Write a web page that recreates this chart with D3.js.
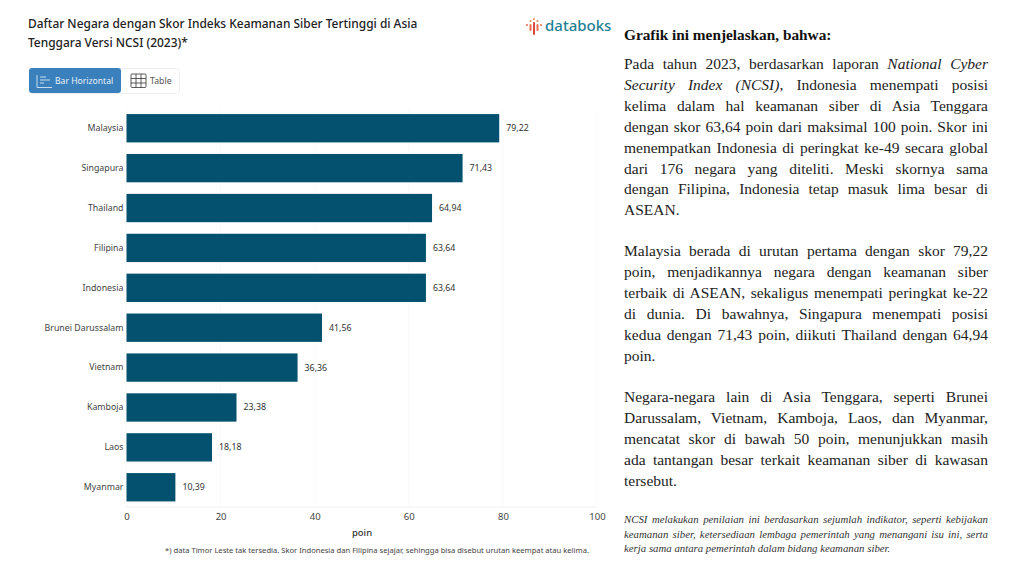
<!DOCTYPE html>
<html><head><meta charset="utf-8">
<script src="https://cdn.jsdelivr.net/npm/d3@7/dist/d3.min.js"></script>
<style>
html,body{margin:0;padding:0;background:#fff;width:1024px;height:576px;overflow:hidden}
#c{position:absolute;left:0;top:0}
.l{position:absolute;left:624px;width:364px;font-family:"Liberation Serif",serif;white-space:nowrap;color:#1c1c1c}
.j{text-align:justify;text-align-last:justify;white-space:normal}
</style></head><body>
<svg id="c" width="1024" height="576"></svg>
<div id="t"></div>
<script>
const categories=["Malaysia","Singapura","Thailand","Filipina","Indonesia","Brunei Darussalam","Vietnam","Kamboja","Laos","Myanmar"];
const values=[79.22,71.43,64.94,63.64,63.64,41.56,36.36,23.38,18.18,10.39];
const xTicks=[0,20,40,60,80,100];
const titleLines=["Daftar Negara dengan Skor Indeks Keamanan Siber Tertinggi di Asia","Tenggara Versi NCSI (2023)*"];
const footnote="*) data Timor Leste tak tersedia. Skor Indonesia dan Filipina sejajar, sehingga bisa disebut urutan keempat atau kelima.";
const para1=["Pada tahun 2023, berdasarkan laporan <i>National Cyber</i>","<i>Security Index (NCSI)</i>, Indonesia menempati posisi","kelima dalam hal keamanan siber di Asia Tenggara","dengan skor 63,64 poin dari maksimal 100 poin. Skor ini","menempatkan Indonesia di peringkat ke-49 secara global","dari 176 negara yang diteliti. Meski skornya sama","dengan Filipina, Indonesia tetap masuk lima besar di","ASEAN."];
const para2=["Malaysia berada di urutan pertama dengan skor 79,22","poin, menjadikannya negara dengan keamanan siber","terbaik di ASEAN, sekaligus menempati peringkat ke-22","di dunia. Di bawahnya, Singapura menempati posisi","kedua dengan 71,43 poin, diikuti Thailand dengan 64,94","poin."];
const para3=["Negara-negara lain di Asia Tenggara, seperti Brunei","Darussalam, Vietnam, Kamboja, Laos, dan Myanmar,","mencatat skor di bawah 50 poin, menunjukkan masih","ada tantangan besar terkait keamanan siber di kawasan","tersebut."];
const note=["<i>NCSI melakukan penilaian ini berdasarkan sejumlah indikator, seperti kebijakan</i>","<i>keamanan siber, ketersediaan lembaga pemerintah yang menangani isu ini, serta</i>","<i>kerja sama antara pemerintah dalam bidang keamanan siber.</i>"];

const FONT='"Noto Sans",sans-serif';
const svg=d3.select("#c");
const x=d3.scaleLinear().domain([0,100]).range([126.5,597]);
const y=d3.scaleBand().domain(categories).range([108.5,507]).paddingInner(0.29).paddingOuter(0.14);
// title
svg.append("g").selectAll("text").data(titleLines).join("text")
 .attr("x",28).attr("y",(d,i)=>28+i*19).attr("font-family",FONT).attr("font-size",11.95)
 .attr("font-weight",500).attr("fill","#222").text(d=>d);
// logo
const logo=svg.append("g").attr("transform","translate(526,18)");
const logoBars=[[0,6,2,"#ef6a4c"],[3.5,2,2,"#f08a4b"],[3.5,6,7,"#ef6a4c"],[7,0,2,"#f08a4b"],[7,4,13,"#d9483b"],[10.5,2,2,"#f08a4b"],[10.5,6,7,"#ef6a4c"],[14,6,2,"#ef6a4c"]];
logo.selectAll("rect").data(logoBars).join("rect").attr("x",d=>d[0]).attr("y",d=>d[1]).attr("width",2).attr("height",d=>d[2]).attr("rx",1).attr("fill",d=>d[3]);
svg.append("text").attr("x",545).attr("y",31).attr("font-family",FONT).attr("font-size",15).attr("font-weight",500).attr("fill","#1f7f93").text("databoks");
// toggle
svg.append("rect").attr("x",29.5).attr("y",68.5).attr("width",150).attr("height",25).attr("rx",3).attr("fill","#fff").attr("stroke","#eceff2");
svg.append("rect").attr("x",29).attr("y",68).attr("width",92).attr("height",25).attr("rx",3).attr("fill","#3a80bd");
const ic=svg.append("g").attr("fill","none").attr("stroke","#d7e6f3").attr("stroke-width",0.9);
ic.append("path").attr("d","M37 75V87.5H52M40 77H46M40 80H50M40 83H44");
svg.append("text").attr("x",55).attr("y",84).attr("font-family",FONT).attr("font-size",8.6).attr("fill","#e8f1f8").text("Bar Horizontal");
const tb=svg.append("g").attr("fill","none").attr("stroke","#333").attr("stroke-width",0.8);
tb.append("rect").attr("x",131).attr("y",74).attr("width",15).attr("height",13.5).attr("rx",1);
tb.append("path").attr("d","M136 74V87.5M141 74V87.5M131 78.5H146M131 83H146");
svg.append("text").attr("x",150).attr("y",84).attr("font-family",FONT).attr("font-size",8.8).attr("fill","#555").text("Table");
// axis baseline
svg.append("g").selectAll("line").data(xTicks).join("line").attr("x1",d=>x(d)).attr("x2",d=>x(d)).attr("y1",108).attr("y2",507).attr("stroke","#fafafa");
svg.append("line").attr("x1",x(0)).attr("x2",x(100)).attr("y1",507).attr("y2",507).attr("stroke","#f0f0f0");
// bars
svg.append("g").selectAll("rect").data(values).join("rect")
 .attr("x",x(0)).attr("y",(d,i)=>y(categories[i])).attr("width",d=>x(d)-x(0)).attr("height",y.bandwidth()).attr("fill","#03506f");
svg.append("g").selectAll("text").data(values).join("text")
 .attr("x",d=>x(d)+7).attr("y",(d,i)=>y(categories[i])+y.bandwidth()/2+3).attr("font-family",FONT).attr("font-size",8.8).attr("fill","#333")
 .text(d=>d3.format(".2f")(d).replace(".",","));
const yAxis=d3.axisLeft(y).tickSize(0).tickPadding(3);
const gy=svg.append("g").attr("transform",`translate(${x(0)},0)`).call(yAxis);
gy.select(".domain").remove();
gy.selectAll("text").attr("font-family",FONT).attr("font-size",8.8).attr("fill","#444");
const xAxis=d3.axisBottom(x).tickValues(xTicks).tickSize(0).tickPadding(6);
const gx=svg.append("g").attr("transform","translate(0,507)").call(xAxis);
gx.select(".domain").remove();
gx.selectAll("text").attr("font-family",FONT).attr("font-size",9.5).attr("fill","#444");
svg.append("text").attr("x",362).attr("y",536).attr("text-anchor","middle").attr("font-family",FONT).attr("font-size",9.5).attr("font-weight",500).attr("fill","#333").text("poin");
svg.append("text").attr("x",377).attr("y",553).attr("text-anchor","middle").attr("font-family",FONT).attr("font-size",7.6).attr("fill","#444").text(footnote);
// right text
const t=d3.select("#t");
function block(lines,top,lh,fs,col){
 lines.forEach((s,i)=>{
  const justified=i<lines.length-1;
  t.append("div").attr("class","l"+(justified?" j":"")).style("top",(top+i*lh)+"px").style("font-size",fs+"px").style("line-height",lh+"px").style("color",col).html(s);
 });
}
t.append("div").attr("class","l").style("top","23.5px").style("font-size","15.3px").style("line-height","21px").style("font-weight","700").style("color","#111").text("Grafik ini menjelaskan, bahwa:");
block(para1,54,20.9,15.5,"#222");
block(para2,239.5,21,15.5,"#222");
block(para3,385.5,21,15.5,"#222");
block(note,512,14.6,10.8,"#333");
</script>
</body></html>
